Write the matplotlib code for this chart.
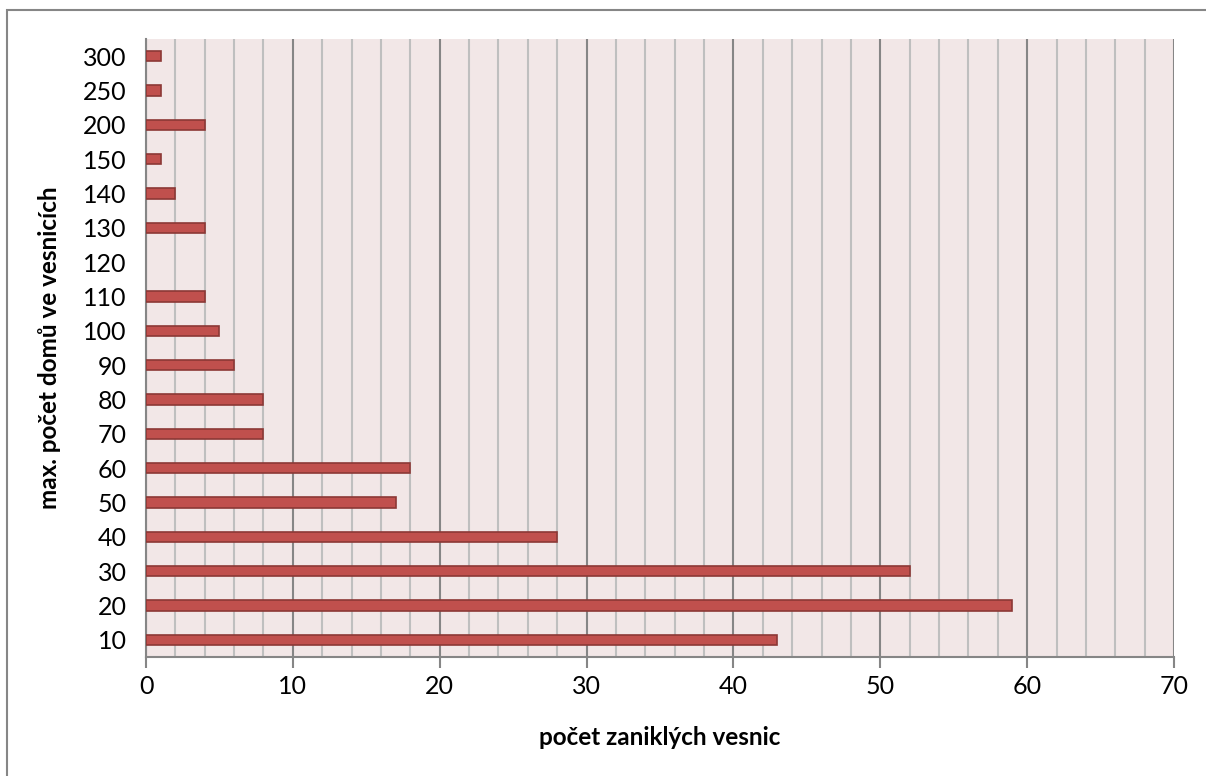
import matplotlib.pyplot as plt
from matplotlib.patches import Rectangle

plt.rcParams['font.family'] = ['Lato', 'DejaVu Sans']

kategorie = ['10', '20', '30', '40', '50', '60', '70', '80', '90', '100',
             '110', '120', '130', '140', '150', '200', '250', '300']
pocty = [43, 59, 52, 28, 17, 18, 8, 8, 6, 5, 4, 0, 4, 2, 1, 4, 1, 1]

fig = plt.figure(figsize=(12.06, 7.76), dpi=100)
# outer chart frame (cut off at right and bottom)
fig.patches.append(Rectangle((7/1206, -0.1), 1.2, 1 - 10/776 + 0.1,
                             transform=fig.transFigure, fill=False,
                             edgecolor='#868686', linewidth=1.5))

ax = fig.add_axes([146/1206, 1 - 657/776, 1028/1206, 618/776])
ax.set_facecolor('#F2E7E7')

y = list(range(len(kategorie)))
okraje = ['#8C3836' if v > 0 else 'none' for v in pocty]
ax.barh(y, pocty, height=0.3, color='#C0504D', edgecolor=okraje,
        linewidth=1.2, zorder=3)

ax.set_xlim(0, 70)
ax.set_ylim(-0.5, len(kategorie) - 0.5)
ax.set_xticks(range(0, 71, 10))
ax.set_xticks(range(0, 71, 2), minor=True)
ax.set_yticks(y)
ax.set_yticklabels(kategorie)

ax.grid(axis='x', which='minor', color='#BFBFBF', linewidth=1.5, zorder=1)
ax.grid(axis='x', which='major', color='#868686', linewidth=1.5, zorder=2)

for s in ['top', 'right']:
    ax.spines[s].set_visible(False)
ax.spines['left'].set_color('#868686')
ax.spines['bottom'].set_color('#868686')
ax.spines['left'].set_linewidth(1.5)
ax.spines['bottom'].set_linewidth(1.5)

ax.tick_params(axis='x', which='major', length=8, width=1.5, color='#868686',
               labelsize=18, pad=5)
ax.tick_params(axis='x', which='minor', length=0)
ax.tick_params(axis='y', length=0, labelsize=18, pad=14)

ax.set_xlabel('počet zaniklých vesnic', fontsize=17.5, fontweight='bold', labelpad=20)
ax.set_ylabel('max. počet domů ve vesnicích', fontsize=17.5, fontweight='bold', labelpad=16)

fig.savefig('out.png', dpi=100)
